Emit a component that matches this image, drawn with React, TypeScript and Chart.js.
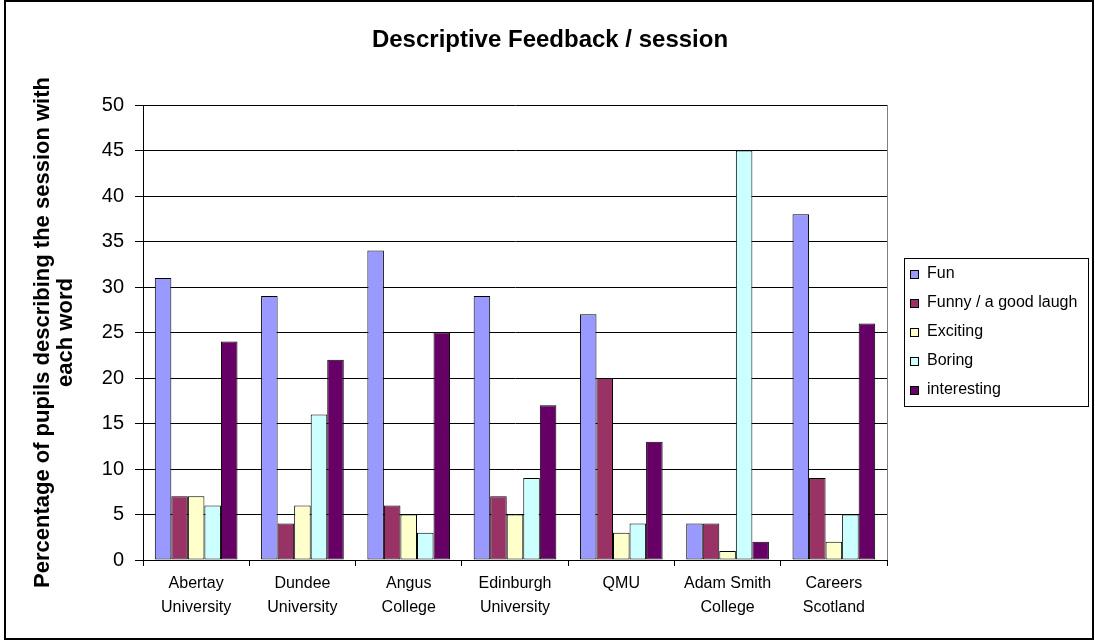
import React, { useEffect, useRef } from "react";
import { Chart, registerables } from "chart.js";

Chart.register(...registerables);

const categories: string[][] = [
  ["Abertay", "University"],
  ["Dundee", "University"],
  ["Angus", "College"],
  ["Edinburgh", "University"],
  ["QMU"],
  ["Adam Smith", "College"],
  ["Careers", "Scotland"],
];
const seriesNames = ["Fun", "Funny / a good laugh", "Exciting", "Boring", "interesting"];
const funValues = [31, 29, 34, 29, 27, 4, 38];
const funnyValues = [7, 4, 6, 7, 20, 4, 9];
const excitingValues = [7, 6, 5, 5, 3, 1, 2];
const boringValues = [6, 16, 3, 9, 4, 45, 5];
const interestingValues = [24, 22, 25, 17, 13, 2, 26];
const seriesColors = ["#9999FF", "#993366", "#FFFFCC", "#CCFFFF", "#660066"];
const yMin = 0;
const yMax = 50;
const yStep = 5;
const chartTitle = "Descriptive Feedback / session";
const yTitle = ["Percentage of pupils describing the session with", "each word"];

const FONT = '"Liberation Sans", Arial, sans-serif';

const decorPlugin = {
  id: "decor",
  afterDraw(chart: any) {
    const ctx = chart.ctx as CanvasRenderingContext2D;
    const ca = chart.chartArea;
    ctx.save();
    // plot area right border
    ctx.strokeStyle = "#808080";
    ctx.lineWidth = 1;
    const rx = Math.round(ca.right) + 0.5;
    ctx.beginPath();
    ctx.moveTo(rx, ca.top);
    ctx.lineTo(rx, ca.bottom);
    ctx.stroke();

    // title
    ctx.fillStyle = "#000";
    ctx.font = `bold 24px ${FONT}`;
    ctx.textAlign = "center";
    ctx.textBaseline = "alphabetic";
    ctx.fillText(chartTitle, 550, 47);

    // legend
    const lx = 904, ly = 258, lw = 184, lh = 148;
    ctx.strokeStyle = "#000";
    ctx.lineWidth = 1;
    ctx.strokeRect(lx + 0.5, ly + 0.5, lw, lh);
    ctx.font = `16px ${FONT}`;
    ctx.textAlign = "left";
    ctx.textBaseline = "middle";
    chart.data.datasets.forEach((ds: any, i: number) => {
      const y = 274 + i * 29;
      ctx.fillStyle = ds.backgroundColor;
      ctx.fillRect(910, y - 4, 8, 8);
      ctx.strokeStyle = "#000";
      ctx.strokeRect(910.5, y - 3.5, 8, 8);
      ctx.fillStyle = "#000";
      ctx.fillText(ds.label, 927, y);
    });

    // outer border
    ctx.strokeStyle = "#000";
    ctx.lineWidth = 2;
    ctx.strokeRect(5, 1, 1088, 638);
    ctx.restore();
  },
};

export default function App() {
  const canvasRef = useRef<HTMLCanvasElement | null>(null);

  useEffect(() => {
    if (!canvasRef.current) return;
    const allValues = [funValues, funnyValues, excitingValues, boringValues, interestingValues];
    const chart = new Chart(canvasRef.current, {
      type: "bar",
      data: {
        labels: categories,
        datasets: seriesNames.map((name, i) => ({
          label: name,
          data: allValues[i],
          backgroundColor: seriesColors[i],
          borderColor: "#000",
          borderWidth: 1,
          borderSkipped: false,
          categoryPercentage: 0.778,
          barPercentage: 1.0,
        })),
      },
      options: {
        responsive: false,
        animation: false,
        devicePixelRatio: 1,
        layout: { padding: { left: 0, top: 105, right: 208, bottom: 0 } },
        plugins: {
          legend: { display: false },
          title: { display: false },
          tooltip: { enabled: false },
        },
        scales: {
          x: {
            afterFit: (scale: any) => {
              scale.height = 80;
            },
            grid: {
              drawOnChartArea: false,
              drawTicks: true,
              tickLength: 6,
              color: "#000",
              offset: true,
            },
            border: { display: true, color: "#000", width: 1 },
            ticks: {
              color: "#000",
              font: { family: FONT, size: 16, lineHeight: 1.5 },
              padding: 6,
              maxRotation: 0,
              autoSkip: false,
            },
          },
          y: {
            min: yMin,
            max: yMax,
            afterFit: (scale: any) => {
              scale.width = 143;
            },
            grid: {
              color: "#000",
              lineWidth: 1,
              drawTicks: true,
              tickLength: 8,
            },
            border: { display: true, color: "#000", width: 1 },
            ticks: {
              stepSize: yStep,
              color: "#000",
              font: { family: FONT, size: 20 },
              padding: 11,
            },
            title: {
              display: true,
              text: yTitle,
              color: "#000",
              font: { family: FONT, size: 22, weight: "bold", lineHeight: 1.05 },
              padding: { top: 31, bottom: 0 },
            },
          },
        },
      },
      plugins: [decorPlugin],
    });
    return () => chart.destroy();
  }, []);

  return (
    <div style={{ position: "absolute", left: 0, top: 0, width: 1095, height: 640, background: "#fff" }}>
      <canvas ref={canvasRef} width={1095} height={640} style={{ display: "block" }} />
    </div>
  );
}
